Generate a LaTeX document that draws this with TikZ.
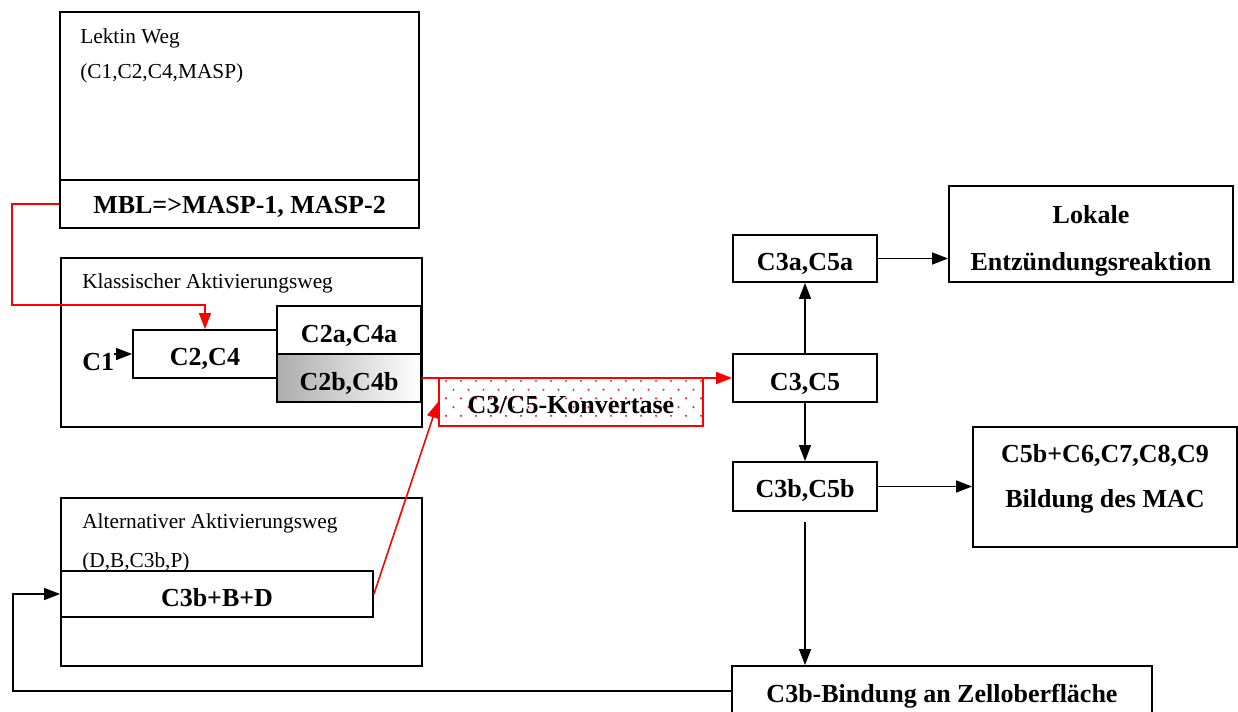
\documentclass[tikz,border=0pt]{standalone}
\usepackage{fontspec}
\setmainfont{Liberation Serif}
\usetikzlibrary{arrows.meta,fit,calc}
\tikzset{
  box/.style={draw, line width=1.4pt, inner sep=0pt},
  hdr/.style={anchor=base west, inner sep=0pt, font=\fontsize{16}{19}\selectfont},
  lbl/.style={anchor=base, inner sep=0pt, font=\bfseries\fontsize{19.5}{23}\selectfont},
  arr/.style={line width=1.1pt, -{Triangle[length=12pt,width=9pt]}},
  redarr/.style={arr, draw=red, line width=1.2pt},
}
\begin{document}
\begin{tikzpicture}[x=0.75pt, y=-0.75pt]
\useasboundingbox (0,0) rectangle (1238,711);
% Lektin Weg
\node[box, fit={(60,12) (419,180)}] (lek) {};
\node[hdr] (lekt) at (80,43) {Lektin Weg};
\node[hdr] (lekc) at (80,78) {(C1,C2,C4,MASP)};
\node[box, fit={(60,180) (419,228)}] (mbl) {};
\node[lbl] (mblt) at (239.5,213) {MBL=>MASP-1, MASP-2};
% Klassischer
\node[box, fit={(61,258) (422,427)}] (kla) {};
\node[hdr] (klat) at (82,288) {Klassischer Aktivierungsweg};
\node[box, fit={(133,330) (277,378)}] (c24) {};
\node[lbl] (c24t) at (205,365) {C2,C4};
\node[box, fit={(277,306) (421,354)}] (c2a) {};
\node[lbl] (c2at) at (349,342) {C2a,C4a};
\node[box, fit={(277,354) (421,402)}, left color=gray!65, right color=white] (c2b) {};
\node[lbl] (c2bt) at (349,390) {C2b,C4b};
\node[lbl, anchor=base west] (c1) at (82,370) {C1};
% Alternativer
\node[box, fit={(61,498) (422,666)}] (alt) {};
\node[hdr] (altt) at (82,528) {Alternativer Aktivierungsweg};
\node[hdr] (altc) at (82,567) {(D,B,C3b,P)};
\node[box, fit={(61,571) (373,617)}] (c3bbd) {};
\node[lbl] (c3bbdt) at (217,606) {C3b+B+D};
% Konvertase
\begin{scope}
  \clip (439,378) rectangle (703,426);
  \foreach \r in {0,...,4} {
    \foreach \c in {0,...,18} {
      \fill[red!85] ({446+\c*15+mod(\r,2)*7.5}, {381+\r*8.7}) circle (0.9pt);
    }
  }
\end{scope}
\node[box, draw=red, fit={(439,378) (703,426)}] (konv) {};
\node[lbl] (konvt) at (571,413) {C3/C5-Konvertase};
% right column
\node[box, fit={(733,235) (877,282)}] (c3a) {};
\node[lbl] (c3at) at (805,270) {C3a,C5a};
\node[box, fit={(949,186) (1233,282)}] (lok) {};
\node[lbl] (lok1) at (1091,223) {Lokale};
\node[lbl] (lok2) at (1091,270) {Entzündungsreaktion};
\node[box, fit={(733,354) (877,402)}] (c35) {};
\node[lbl] (c35t) at (805,390) {C3,C5};
\node[box, fit={(733,462) (877,511)}] (c3b) {};
\node[lbl] (c3bt) at (805,497) {C3b,C5b};
\node[box, fit={(973,427) (1237,547)}] (mac) {};
\node[lbl] (mac1) at (1105,462) {C5b+C6,C7,C8,C9};
\node[lbl] (mac2) at (1105,507) {Bildung des MAC};
\node[box, fit={(732,666) (1152,716)}] (bind) {};
\node[lbl] (bindt) at (942,702) {C3b-Bindung an Zelloberfläche};
% coordinates
\coordinate (redx) at (12,305);
\coordinate (loopx) at (13,690);
\coordinate (gapc) at (805,522);
% red connectors
\draw[redarr] (mbl.west) -| (redx) -- (redx -| c24.north) -- (c24.north);
\draw[redarr] (c2b.east) -- (c35.west);
\draw[redarr] (c3bbd.east) -- (konv.west);
% black connectors
\draw[arr] (c1.east |- c24.west) -- (c24.west);
\draw[arr] (c35.north) -- (c3a.south);
\draw[arr] (c35.south) -- (c3b.north);
\draw[arr] (c3a.east) -- (c3a.east -| lok.west);
\draw[arr] (c3b.east) -- (c3b.east -| mac.west);
\draw[arr] (gapc) -- (gapc |- bind.north);
\draw[arr] (bind.west) -- (bind.west -| loopx) -- (c3bbd.west -| loopx) -- (c3bbd.west);
\end{tikzpicture}
\end{document}
